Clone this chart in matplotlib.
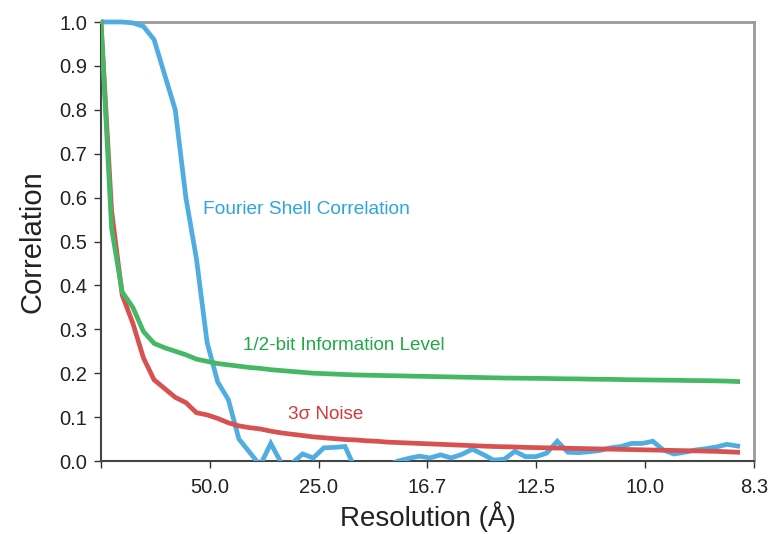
import matplotlib
matplotlib.use("Agg")
import matplotlib.pyplot as plt
from matplotlib.patches import Rectangle

plt.rcParams['font.family'] = ['Liberation Sans', 'DejaVu Sans']

# spatial frequency of each shell (1/Å)
shell_freq = [0.0, 0.00195, 0.0039, 0.00585, 0.0078, 0.00975, 0.0117, 0.01365,
              0.0156, 0.01755, 0.0195, 0.02145, 0.0234, 0.02535, 0.0273, 0.02925,
              0.0312, 0.03315, 0.0351, 0.03705, 0.039, 0.04095, 0.0429, 0.04485,
              0.0468, 0.04875, 0.0507, 0.05265, 0.0546, 0.05655, 0.0585, 0.06045,
              0.0624, 0.06435, 0.0663, 0.06825, 0.0702, 0.07215, 0.0741, 0.07605,
              0.078, 0.07995, 0.0819, 0.08385, 0.0858, 0.08775, 0.0897, 0.09165,
              0.0936, 0.09555, 0.0975, 0.09945, 0.1014, 0.10335, 0.1053, 0.10725,
              0.1092, 0.11115, 0.1131, 0.11505, 0.117]

fsc = [1.0, 1.0, 1.0, 0.998, 0.99, 0.96, 0.88, 0.80, 0.60, 0.46,
       0.27, 0.18, 0.14, 0.05, 0.02, -0.01, 0.04, -0.005, -0.005, 0.016,
       0.007, 0.03, 0.031, 0.033, -0.02, -0.03, -0.02, -0.01, 0.0, 0.006,
       0.011, 0.007, 0.014, 0.007, 0.015, 0.027, 0.015, 0.002, 0.004, 0.022,
       0.01, 0.01, 0.018, 0.045, 0.02, 0.019, 0.021, 0.024, 0.03, 0.033,
       0.04, 0.04, 0.045, 0.025, 0.016, 0.02, 0.025, 0.028, 0.032, 0.038,
       0.034]

half_bit = [1.0, 0.53, 0.385, 0.35, 0.295, 0.268, 0.258, 0.25, 0.242, 0.232,
            0.227, 0.222, 0.219, 0.216, 0.213, 0.211, 0.208, 0.206, 0.204, 0.202,
            0.200, 0.199, 0.198, 0.197, 0.196, 0.1955, 0.195, 0.1945, 0.194, 0.1935,
            0.193, 0.1925, 0.192, 0.1915, 0.191, 0.1905, 0.190, 0.1895, 0.189, 0.1888,
            0.1885, 0.1882, 0.188, 0.1875, 0.1872, 0.187, 0.1865, 0.1862, 0.186, 0.1855,
            0.185, 0.1848, 0.1845, 0.1842, 0.184, 0.1835, 0.1832, 0.183, 0.1825, 0.182,
            0.181]

noise_3s = [1.0, 0.57, 0.378, 0.314, 0.235, 0.185, 0.165, 0.145, 0.133, 0.11,
            0.105, 0.097, 0.087, 0.080, 0.076, 0.073, 0.068, 0.064, 0.061, 0.058,
            0.055, 0.053, 0.051, 0.049, 0.048, 0.046, 0.045, 0.043, 0.042, 0.041,
            0.040, 0.039, 0.038, 0.037, 0.036, 0.035, 0.034, 0.033, 0.0325, 0.032,
            0.031, 0.0305, 0.030, 0.0295, 0.029, 0.0285, 0.028, 0.0275, 0.027, 0.0265,
            0.026, 0.0255, 0.025, 0.0245, 0.024, 0.0235, 0.023, 0.0225, 0.022, 0.021,
            0.020]

x_ticks = [0.0, 0.02, 0.04, 0.06, 0.08, 0.10, 0.12]
x_ticklabels = ['', '50.0', '25.0', '16.7', '12.5', '10.0', '8.3']
y_ticks = [0.0, 0.1, 0.2, 0.3, 0.4, 0.5, 0.6, 0.7, 0.8, 0.9, 1.0]

blue = '#4FADE2'
green = '#46B865'
red = '#D85050'

fig = plt.figure(figsize=(7.72, 5.34), dpi=100)
ax = fig.add_axes([0.1308, 0.1367, 0.8459, 0.8221])

clip = Rectangle((0, 0), 1, 1.02, transform=ax.transAxes, facecolor='none', edgecolor='none')
ax.add_patch(clip)

l1, = ax.plot(shell_freq, fsc, color=blue, lw=3.4, solid_joinstyle='miter', zorder=3)
l2, = ax.plot(shell_freq, noise_3s, color=red, lw=3.4, solid_joinstyle='miter', zorder=4)
l3, = ax.plot(shell_freq, half_bit, color=green, lw=3.4, solid_joinstyle='miter', zorder=5)
for ln in (l1, l2, l3):
    ln.set_clip_path(clip)

ax.set_xlim(0, 0.12)
ax.set_ylim(0, 1.0)
ax.set_xticks(x_ticks)
ax.set_xticklabels(x_ticklabels)
ax.set_yticks(y_ticks)
ax.set_yticklabels([f'{v:.1f}' for v in y_ticks])
ax.tick_params(axis='both', direction='out', length=5, width=1, color='#333333',
               labelsize=14.5, labelcolor='#222222')
ax.tick_params(axis='x', pad=7)
ax.tick_params(axis='y', pad=5)

for s in ('left', 'bottom'):
    ax.spines[s].set_color('#444444')
    ax.spines[s].set_linewidth(1.5)
for s in ('top', 'right'):
    ax.spines[s].set_color('#9a9a9a')
    ax.spines[s].set_linewidth(2)

ax.set_ylabel('Correlation', fontsize=21, color='#222222', labelpad=9)
ax.set_xlabel('Resolution (Å)', fontsize=20, color='#222222', labelpad=3)

ax.text(0.0187, 0.572, 'Fourier Shell Correlation', color='#2AA6DF', fontsize=13.8,
        va='center', ha='left')
ax.text(0.0261, 0.262, '1/2-bit Information Level', color='#22A848', fontsize=13.6,
        va='center', ha='left')
ax.text(0.0343, 0.107, '3σ Noise', color='#D33A3C', fontsize=13.6,
        va='center', ha='left')

fig.savefig('out.png', dpi=100)
